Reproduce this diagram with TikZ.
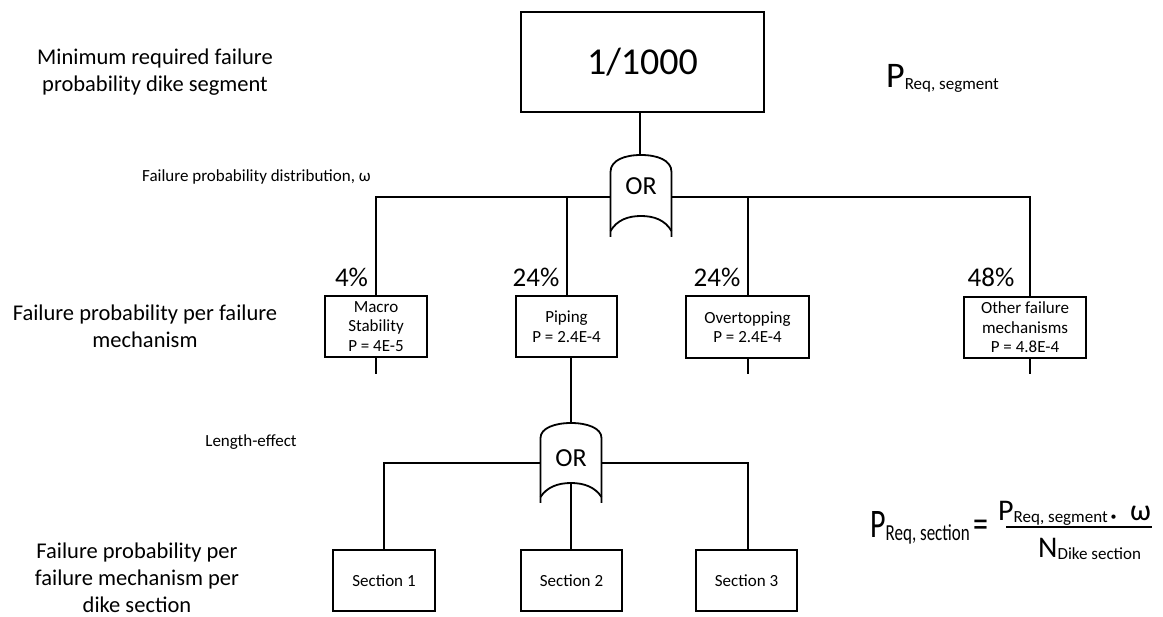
\documentclass[tikz,border=0pt]{standalone}
\usepackage{fontspec}
\setmainfont{Carlito}
\newcommand{\psub}[1]{\raisebox{-2pt}{\fontsize{17}{20}\selectfont #1}}
\newcommand{\tall}[1]{\scalebox{1}[1.35]{#1}}
\tikzset{
  fmbox/.style={draw, line width=2pt, align=center, inner sep=0pt,
    font=\fontsize{17}{19.5}\selectfont},
  wire/.style={line width=2pt},
  thinwire/.style={line width=1.3pt},
  orline/.style={line width=1.8pt},
  lbl/.style={align=center, font=\fontsize{22.5}{27}\selectfont},
  smalltext/.style={font=\fontsize{17}{20}\selectfont},
  pct/.style={font=\fontsize{27}{30}\selectfont},
  bigp/.style={inner sep=0pt, font=\fontsize{30}{34}\selectfont}
}

\begin{document}
\begin{tikzpicture}[x=1pt, y=-1pt]
      \useasboundingbox (0,0) rectangle (1163,617);
      % top event
      \node[fmbox, minimum width=243pt, minimum height=100pt,
        font=\fontsize{38}{42}\selectfont] (top) at (642.5,62) {1/1000};
      \node[anchor=base west, inner sep=0pt] (preqseg) at (886,88)
        {{\fontsize{36}{40}\selectfont P}\psub{Req, segment}};
      % first OR gate
      \begin{scope}[shift={(641,196)}]
        \draw[orline] (-30.5,41) -- (-30.5,-24) .. controls (-30.5,-36) and (-16,-41) .. (0,-41)
          .. controls (16,-41) and (30.5,-36) .. (30.5,-24) -- (30.5,41);
        \draw[orline] (-30.5,35) .. controls (-24,24) and (-13,20) .. (0,20)
          .. controls (13,20) and (24,24) .. (30.5,35);
        \node[font=\fontsize{26}{30}\selectfont] (or1) at (0,-10) {OR};
        \coordinate (or1n) at (-1,-41);
        \coordinate (or1w) at (-30.5,1);
        \coordinate (or1e) at (30.5,1);
      \end{scope}
      % failure mechanisms
      \node[fmbox, minimum width=102pt, minimum height=61pt] (macro) at (376,326.5)
        {Macro\\Stability\\P = 4E-5};
      \node[fmbox, minimum width=101pt, minimum height=61pt] (piping) at (566.5,326.5)
        {Piping\\P = 2.4E-4};
      \node[fmbox, minimum width=123pt, minimum height=62pt] (overtop) at (747.5,327)
        {Overtopping\\P = 2.4E-4};
      \node[fmbox, minimum width=122pt, minimum height=61pt] (other) at (1025,327.5)
        {Other failure\\mechanisms\\P = 4.8E-4};
      \node[pct] (pmacro) at (351.5,277) {4\%};
      \node[pct] (ppiping) at (536,277) {24\%};
      \node[pct] (povertop) at (717,277) {24\%};
      \node[pct] (pother) at (991,277) {48\%};
      \draw[wire] (or1n |- top.south) -- (or1n);
      \draw[wire] (or1w) -| (macro.north);
      \draw[wire] (piping.north) -- (piping.north |- or1w);
      \draw[wire] (overtop.north) -- (overtop.north |- or1w);
      \draw[wire] (or1e) -| ([xshift=5pt]other.north);
      \coordinate (macroend) at (376,374);
      \coordinate (overtopend) at (748,374);
      \coordinate (otherend) at (1030,374);
      \draw[wire] (macro.south) -- (macroend);
      \draw[wire] (overtopend |- overtop.south) -- (overtopend);
      \draw[wire] (otherend |- other.south) -- (otherend);
      % second OR gate
      \begin{scope}[shift={(571,463)}]
        \draw[orline] (-30.5,40) -- (-30.5,-25) .. controls (-30.5,-35) and (-16,-40) .. (0,-40)
          .. controls (16,-40) and (30.5,-35) .. (30.5,-25) -- (30.5,40);
        \draw[orline] (-30.5,34) .. controls (-24,24) and (-13,20) .. (0,20)
          .. controls (13,20) and (24,24) .. (30.5,34);
        \node[font=\fontsize{26}{30}\selectfont] (or2) at (0,-5) {OR};
        \coordinate (or2n) at (0,-40);
        \coordinate (or2s) at (0,20);
        \coordinate (or2w) at (-30.5,0);
        \coordinate (or2e) at (30.5,0);
      \end{scope}
      % sections
      \node[fmbox, minimum width=102pt, minimum height=61pt] (sec1) at (384,580.5) {Section 1};
      \node[fmbox, minimum width=101pt, minimum height=61pt] (sec2) at (571.5,580.5) {Section 2};
      \node[fmbox, minimum width=101pt, minimum height=61pt] (sec3) at (746.5,580.5) {Section 3};
      \draw[thinwire] (or2n |- piping.south) -- (or2n);
      \draw[thinwire] (or2s) -- (or2s |- sec2.north);
      \draw[wire] (or2w) -| (sec1.north);
      \draw[wire] (or2e) -| ([xshift=1.5pt]sec3.north);
      % left labels
      \node[lbl] (lsegment) at (155,72) {Minimum required failure\\probability dike segment};
      \node[smalltext] (ldistr) at (256.5,177) {Failure probability distribution, ω};
      \node[lbl] (lmech) at (145,326) {Failure probability per failure\\mechanism};
      \node[smalltext] (llength) at (251,442) {Length-effect};
      \node[lbl] (lsection) at (137,578) {Failure probability per\\failure mechanism per\\dike section};
      % formula
      \node[bigp, anchor=base west] (preqsec) at (870,538) {\tall{P\psub{Req, section}}};
      \node[bigp, anchor=base] (eqsign) at (981,538) {\tall{=}};
      \node[bigp, anchor=base west] (num) at (998,521)
        {P\psub{Req, segment\,\raisebox{2.5pt}{\fontsize{12}{14}\selectfont\textbullet}}\ \ ω};
      \node[bigp, anchor=base west] (den) at (1038,558) {N\psub{Dike section}};
      \coordinate (barl) at (1006,527);
      \coordinate (barr) at (1152,527);
      \draw[line width=1.5pt] (barl) -- (barr);
\end{tikzpicture}
\end{document}
